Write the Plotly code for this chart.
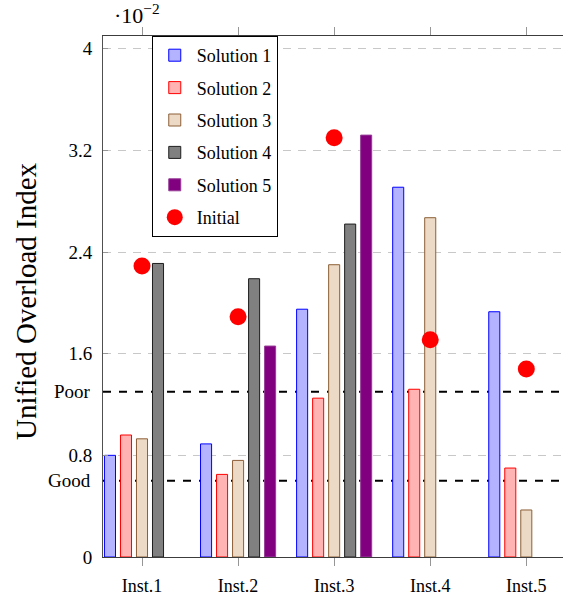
import plotly.graph_objects as go

categories = ["Inst.1", "Inst.2", "Inst.3", "Inst.4", "Inst.5"]
solution_names = ["Solution 1", "Solution 2", "Solution 3", "Solution 4", "Solution 5"]
sol1 = [0.80, 0.89, 1.95, 2.91, 1.93]
sol2 = [0.96, 0.65, 1.25, 1.32, 0.70]
sol3 = [0.93, 0.76, 2.30, 2.67, 0.37]
sol4 = [2.31, 2.19, 2.62, None, None]
sol5 = [None, 1.66, 3.32, None, None]
initial = [2.29, 1.89, 3.30, 1.71, 1.48]
ytick_vals = [0, 0.8, 1.6, 2.4, 3.2, 4]
ytick_text = ["0", "0.8", "1.6", "2.4", "3.2", "4"]
threshold_names = ["Good", "Poor"]
threshold_vals = [0.6, 1.3]

fills = ["rgb(179,179,255)", "rgb(255,179,179)", "rgb(236,217,198)", "rgb(128,128,128)", "rgb(128,0,128)"]
edges = ["rgb(0,0,255)", "rgb(255,0,0)", "rgb(140,95,55)", "rgb(30,30,30)", "rgb(150,60,150)"]

FONT = "'Liberation Serif', 'Times New Roman', 'DejaVu Serif', serif"

fig = go.Figure()
for i, (name, vals) in enumerate(zip(solution_names, [sol1, sol2, sol3, sol4, sol5])):
    fig.add_trace(go.Bar(
        x=categories, y=vals, name=name,
        marker=dict(color=fills[i], line=dict(color=edges[i], width=1)),
        legendgroup=name,
    ))
fig.add_trace(go.Scatter(
    x=categories, y=initial, name="Initial", mode="markers",
    marker=dict(color="red", size=17), legendgroup="Initial",
))

for name, v in zip(threshold_names, threshold_vals):
    fig.add_shape(type="line", xref="paper", x0=0, x1=1, yref="y", y0=v, y1=v,
                  line=dict(color="black", width=2, dash="8px,8px"), layer="between")
    fig.add_annotation(text=name, xref="paper", x=0, xanchor="right", xshift=-10,
                       yref="y", y=v, yanchor="middle", showarrow=False,
                       font=dict(family=FONT, size=19, color="black"))

fig.add_annotation(text="Unified Overload Index", xref="paper", yref="paper",
                   x=-0.169, y=0.492, textangle=-90, showarrow=False,
                   xanchor="center", yanchor="middle",
                   font=dict(family=FONT, size=29, color="black"))
fig.add_annotation(text="·10<sup>−2</sup>", xref="paper", yref="paper",
                   x=0.0745, y=1, xanchor="center", yanchor="bottom", yshift=6,
                   showarrow=False, font=dict(family=FONT, size=22, color="black"))

fig.update_layout(
    width=563, height=601,
    margin=dict(l=103, r=0, t=36, b=44),
    plot_bgcolor="white", paper_bgcolor="white",
    barmode="group", bargap=1/6, bargroupgap=0.31,
    font=dict(family=FONT, size=18, color="black"),
    showlegend=True,
    legend=dict(x=0.106, y=1, xanchor="left", yanchor="top",
                bgcolor="white", bordercolor="black", borderwidth=1,
                font=dict(family=FONT, size=18, color="black"),
                traceorder="grouped", tracegroupgap=6, itemwidth=34),
)
fig.update_xaxes(
    range=[-0.406, 4.382], showgrid=False, showline=True, linecolor="rgb(60,60,60)",
    linewidth=1, mirror="ticks", ticks="outside", ticklen=8, tickcolor="rgb(150,150,150)",
    tickfont=dict(family=FONT, size=18, color="black"), ticklabelstandoff=4,
)
fig.update_yaxes(
    range=[0, 4.1], tickvals=ytick_vals, ticktext=ytick_text,
    showgrid=True, gridcolor="rgb(200,200,200)", griddash="8px,7px", gridwidth=1,
    zeroline=False, showline=True, linecolor="rgb(80,80,80)", linewidth=1,
    ticks="inside", ticklen=5, tickcolor="rgb(150,150,150)",
    tickfont=dict(family=FONT, size=19, color="black"), ticklabelstandoff=6,
)

fig.write_html("out.html")
